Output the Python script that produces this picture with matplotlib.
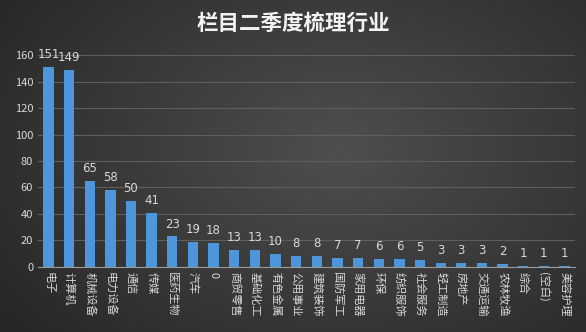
import matplotlib.pyplot as plt
import numpy as np

plt.rcParams['font.family'] = ['Noto Sans CJK SC', 'DejaVu Sans']

# industries and counts
industries = ['电子', '计算机', '机械设备', '电力设备', '通信', '传媒', '医药生物', '汽车', '0',
              '商贸零售', '基础化工', '有色金属', '公用事业', '建筑装饰', '国防军工', '家用电器',
              '环保', '纺织服饰', '社会服务', '轻工制造', '房地产', '交通运输', '农林牧渔',
              '综合', '(空白)', '美容护理']
counts = [151, 149, 65, 58, 50, 41, 23, 19, 18, 13, 13, 10, 8, 8, 7, 7, 6, 6, 5, 3, 3, 3, 2, 1, 1, 1]
yticks = [0, 20, 40, 60, 80, 100, 120, 140, 160]

fig = plt.figure(figsize=(5.86, 3.32), dpi=100)

# dark radial background
bg = fig.add_axes([0, 0, 1, 1], zorder=-10)
yy, xx = np.mgrid[0:1:332j, 0:1:586j]
r = np.sqrt(((xx - 0.58) * 1.2) ** 2 + ((yy - 0.45) * 1.0) ** 2)
bg.imshow(0.31 - 0.18 * np.clip(r, 0, 1), cmap='gray', vmin=0, vmax=1, aspect='auto')
bg.axis('off')

ax = fig.add_axes([0.065, 0.196, 0.916, 0.638])
ax.patch.set_alpha(0)

x = np.arange(len(industries))
ax.bar(x, counts, width=0.5, color='#4e96dc', zorder=3)
for xi, c in zip(x, counts):
    ax.text(xi, c + 4.5, str(c), ha='center', va='bottom', color='#d9d9d9', fontsize=8.5,
            family=['DejaVu Sans'])

ax.set_xlim(-0.5, len(industries) - 0.5)
ax.set_ylim(0, 160)
ax.set_yticks(yticks)
ax.yaxis.grid(True, color='#5e5e5e', linewidth=0.8, zorder=0)
ax.set_xticks(x)
ax.set_xticklabels(industries, rotation=-90, fontsize=8, color='#d9d9d9', va='top', ha='center')
ax.tick_params(axis='y', colors='#d9d9d9', labelsize=8, length=0)
ax.tick_params(axis='x', length=0, pad=4)
for s in ['top', 'right', 'left']:
    ax.spines[s].set_visible(False)
ax.spines['bottom'].set_color('#9a9a9a')

fig.text(0.5, 0.93, '栏目二季度梳理行业', ha='center', va='center', color='#f2f2f2',
         fontsize=15.5, fontweight='bold')

fig.savefig('out.png', dpi=100)
